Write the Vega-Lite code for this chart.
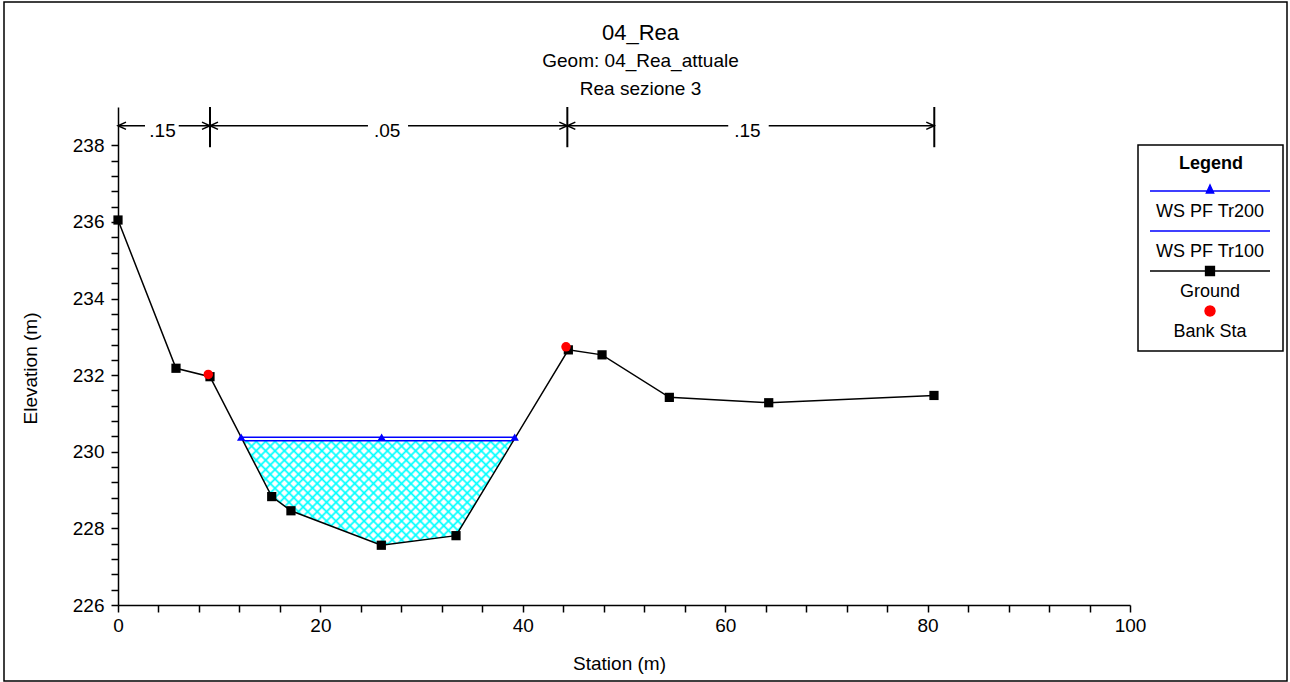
{
  "$schema": "https://vega.github.io/schema/vega-lite/v6.json",
  "width": 1283,
  "height": 679,
  "padding": {"left": 4, "top": 2, "right": 3, "bottom": 1},
  "autosize": {"type": "none"},
  "background": "white",
  "title": {
    "text": "04_Rea",
    "subtitle": ["Geom: 04_Rea_attuale", "Rea sezione 3"],
    "anchor": "middle",
    "offset": -98,
    "dx": -5,
    "font": "Liberation Sans",
    "fontSize": 22,
    "fontWeight": "normal",
    "color": "black",
    "subtitleFont": "Liberation Sans",
    "subtitleFontSize": 19,
    "subtitleColor": "black",
    "subtitleLineHeight": 28,
    "subtitlePadding": 7
  },
  "config": {
    "font": "Liberation Sans",
    "view": {"stroke": "black", "strokeWidth": 1.5},
    "axis": {
      "labelFont": "Liberation Sans",
      "titleFont": "Liberation Sans",
      "labelColor": "black",
      "titleColor": "black",
      "domainColor": "black",
      "tickColor": "black",
      "domainWidth": 1.5,
      "tickWidth": 1.5,
      "grid": false,
      "labelFontSize": 19,
      "titleFontSize": 19,
      "titleFontWeight": "normal",
      "labelOverlap": false,
      "labelFlush": false
    },
    "legend": {"strokeWidth": 1.5}
  },
  "datasets": {
    "ground": [
      {"station": 0, "elev": 236.05},
      {"station": 5.73, "elev": 232.18},
      {"station": 9.09, "elev": 231.96},
      {"station": 15.19, "elev": 228.83},
      {"station": 17.09, "elev": 228.46},
      {"station": 26.02, "elev": 227.56},
      {"station": 33.4, "elev": 227.81},
      {"station": 44.5, "elev": 232.66},
      {"station": 47.83, "elev": 232.53},
      {"station": 54.48, "elev": 231.42},
      {"station": 64.3, "elev": 231.28},
      {"station": 80.63, "elev": 231.47}
    ],
    "bank": [
      {"station": 8.92, "elev": 232.02},
      {"station": 44.27, "elev": 232.74}
    ],
    "tr200": [
      {"station": 12.17, "elev": 230.38},
      {"station": 26.05, "elev": 230.38},
      {"station": 39.2, "elev": 230.38}
    ],
    "tr100": [
      {"station": 12.35, "elev": 230.29},
      {"station": 39.07, "elev": 230.29}
    ],
    "water": [
      {"station": 12.35, "elev": 230.29, "elev2": 230.29},
      {"station": 15.19, "elev": 228.83, "elev2": 230.29},
      {"station": 17.09, "elev": 228.46, "elev2": 230.29},
      {"station": 26.02, "elev": 227.56, "elev2": 230.29},
      {"station": 33.4, "elev": 227.81, "elev2": 230.29},
      {"station": 39.07, "elev": 230.29, "elev2": 230.29}
    ],
    "nbars": [
      {"station": 9.09, "elev": 237.95, "elev2": 239},
      {"station": 44.4, "elev": 237.95, "elev2": 239},
      {"station": 80.66, "elev": 237.95, "elev2": 239}
    ],
    "nlines": [
      {"station": 0, "station2": 2.67, "elev": 238.51},
      {"station": 6.0, "station2": 9.09, "elev": 238.51},
      {"station": 9.09, "station2": 24.7, "elev": 238.51},
      {"station": 28.66, "station2": 44.4, "elev": 238.51},
      {"station": 44.4, "station2": 60.3, "elev": 238.51},
      {"station": 64.3, "station2": 80.66, "elev": 238.51}
    ],
    "nlabels": [
      {"station": 4.4, "elev": 238.22, "n": ".15"},
      {"station": 26.6, "elev": 238.22, "n": ".05"},
      {"station": 62.2, "elev": 238.22, "n": ".15"}
    ],
    "arrowsL": [
      {"station": 0, "elev": 238.51},
      {"station": 9.09, "elev": 238.51},
      {"station": 44.4, "elev": 238.51}
    ],
    "arrowsR": [
      {"station": 9.09, "elev": 238.51},
      {"station": 44.4, "elev": 238.51},
      {"station": 80.66, "elev": 238.51}
    ]
  },
  "encoding": {
    "x": {
      "field": "station",
      "type": "quantitative",
      "scale": {"domain": [0, 100], "range": [114, 1126], "nice": false, "zero": false},
      "axis": {
        "title": "Station (m)",
        "values": [0, 4, 8, 12, 16, 20, 24, 28, 32, 36, 40, 44, 48, 52, 56, 60, 64, 68, 72, 76, 80, 84, 88, 92, 96, 100],
        "labelExpr": "datum.value % 20 === 0 ? format(datum.value, 'd') : ''",
        "offset": -76,
        "tickSize": 7,
        "labelPadding": 4,
        "titleX": 615,
        "titleY": 49
      }
    },
    "y": {
      "field": "elev",
      "type": "quantitative",
      "scale": {"domain": [226, 239], "range": [603, 105], "nice": false, "zero": false},
      "axis": {
        "title": "Elevation (m)",
        "values": [226, 226.4, 226.8, 227.2, 227.6, 228, 228.4, 228.8, 229.2, 229.6, 230, 230.4, 230.8, 231.2, 231.6, 232, 232.4, 232.8, 233.2, 233.6, 234, 234.4, 234.8, 235.2, 235.6, 236, 236.4, 236.8, 237.2, 237.6, 238],
        "labelExpr": "datum.value % 2 === 0 ? format(datum.value, 'd') : ''",
        "offset": -114,
        "tickSize": 7,
        "labelPadding": 7,
        "titleX": -78,
        "titleY": 366
      }
    }
  },
  "layer": [
    {
      "data": {"name": "water"},
      "mark": {
        "type": "area",
        "interpolate": "linear",
        "fill": {
          "gradient": "linear", "x1": 0, "y1": 0, "x2": 1.206, "y2": 0.467,
          "stops": [
            {"offset": 0.006, "color": "rgba(0,255,255,0)"}, {"offset": 0.0125, "color": "#00ffff"}, {"offset": 0.019, "color": "rgba(0,255,255,0)"},
            {"offset": 0.031, "color": "rgba(0,255,255,0)"}, {"offset": 0.0375, "color": "#00ffff"}, {"offset": 0.044, "color": "rgba(0,255,255,0)"},
            {"offset": 0.056, "color": "rgba(0,255,255,0)"}, {"offset": 0.0625, "color": "#00ffff"}, {"offset": 0.069, "color": "rgba(0,255,255,0)"},
            {"offset": 0.081, "color": "rgba(0,255,255,0)"}, {"offset": 0.0875, "color": "#00ffff"}, {"offset": 0.094, "color": "rgba(0,255,255,0)"},
            {"offset": 0.106, "color": "rgba(0,255,255,0)"}, {"offset": 0.1125, "color": "#00ffff"}, {"offset": 0.119, "color": "rgba(0,255,255,0)"},
            {"offset": 0.131, "color": "rgba(0,255,255,0)"}, {"offset": 0.1375, "color": "#00ffff"}, {"offset": 0.144, "color": "rgba(0,255,255,0)"},
            {"offset": 0.156, "color": "rgba(0,255,255,0)"}, {"offset": 0.1625, "color": "#00ffff"}, {"offset": 0.169, "color": "rgba(0,255,255,0)"},
            {"offset": 0.181, "color": "rgba(0,255,255,0)"}, {"offset": 0.1875, "color": "#00ffff"}, {"offset": 0.194, "color": "rgba(0,255,255,0)"},
            {"offset": 0.206, "color": "rgba(0,255,255,0)"}, {"offset": 0.2125, "color": "#00ffff"}, {"offset": 0.219, "color": "rgba(0,255,255,0)"},
            {"offset": 0.231, "color": "rgba(0,255,255,0)"}, {"offset": 0.2375, "color": "#00ffff"}, {"offset": 0.244, "color": "rgba(0,255,255,0)"},
            {"offset": 0.256, "color": "rgba(0,255,255,0)"}, {"offset": 0.2625, "color": "#00ffff"}, {"offset": 0.269, "color": "rgba(0,255,255,0)"},
            {"offset": 0.281, "color": "rgba(0,255,255,0)"}, {"offset": 0.2875, "color": "#00ffff"}, {"offset": 0.294, "color": "rgba(0,255,255,0)"},
            {"offset": 0.306, "color": "rgba(0,255,255,0)"}, {"offset": 0.3125, "color": "#00ffff"}, {"offset": 0.319, "color": "rgba(0,255,255,0)"},
            {"offset": 0.331, "color": "rgba(0,255,255,0)"}, {"offset": 0.3375, "color": "#00ffff"}, {"offset": 0.344, "color": "rgba(0,255,255,0)"},
            {"offset": 0.356, "color": "rgba(0,255,255,0)"}, {"offset": 0.3625, "color": "#00ffff"}, {"offset": 0.369, "color": "rgba(0,255,255,0)"},
            {"offset": 0.381, "color": "rgba(0,255,255,0)"}, {"offset": 0.3875, "color": "#00ffff"}, {"offset": 0.394, "color": "rgba(0,255,255,0)"},
            {"offset": 0.406, "color": "rgba(0,255,255,0)"}, {"offset": 0.4125, "color": "#00ffff"}, {"offset": 0.419, "color": "rgba(0,255,255,0)"},
            {"offset": 0.431, "color": "rgba(0,255,255,0)"}, {"offset": 0.4375, "color": "#00ffff"}, {"offset": 0.444, "color": "rgba(0,255,255,0)"},
            {"offset": 0.456, "color": "rgba(0,255,255,0)"}, {"offset": 0.4625, "color": "#00ffff"}, {"offset": 0.469, "color": "rgba(0,255,255,0)"},
            {"offset": 0.481, "color": "rgba(0,255,255,0)"}, {"offset": 0.4875, "color": "#00ffff"}, {"offset": 0.494, "color": "rgba(0,255,255,0)"},
            {"offset": 0.506, "color": "rgba(0,255,255,0)"}, {"offset": 0.5125, "color": "#00ffff"}, {"offset": 0.519, "color": "rgba(0,255,255,0)"},
            {"offset": 0.531, "color": "rgba(0,255,255,0)"}, {"offset": 0.5375, "color": "#00ffff"}, {"offset": 0.544, "color": "rgba(0,255,255,0)"},
            {"offset": 0.556, "color": "rgba(0,255,255,0)"}, {"offset": 0.5625, "color": "#00ffff"}, {"offset": 0.569, "color": "rgba(0,255,255,0)"},
            {"offset": 0.581, "color": "rgba(0,255,255,0)"}, {"offset": 0.5875, "color": "#00ffff"}, {"offset": 0.594, "color": "rgba(0,255,255,0)"},
            {"offset": 0.606, "color": "rgba(0,255,255,0)"}, {"offset": 0.6125, "color": "#00ffff"}, {"offset": 0.619, "color": "rgba(0,255,255,0)"},
            {"offset": 0.631, "color": "rgba(0,255,255,0)"}, {"offset": 0.6375, "color": "#00ffff"}, {"offset": 0.644, "color": "rgba(0,255,255,0)"},
            {"offset": 0.656, "color": "rgba(0,255,255,0)"}, {"offset": 0.6625, "color": "#00ffff"}, {"offset": 0.669, "color": "rgba(0,255,255,0)"},
            {"offset": 0.681, "color": "rgba(0,255,255,0)"}, {"offset": 0.6875, "color": "#00ffff"}, {"offset": 0.694, "color": "rgba(0,255,255,0)"},
            {"offset": 0.706, "color": "rgba(0,255,255,0)"}, {"offset": 0.7125, "color": "#00ffff"}, {"offset": 0.719, "color": "rgba(0,255,255,0)"},
            {"offset": 0.731, "color": "rgba(0,255,255,0)"}, {"offset": 0.7375, "color": "#00ffff"}, {"offset": 0.744, "color": "rgba(0,255,255,0)"},
            {"offset": 0.756, "color": "rgba(0,255,255,0)"}, {"offset": 0.7625, "color": "#00ffff"}, {"offset": 0.769, "color": "rgba(0,255,255,0)"},
            {"offset": 0.781, "color": "rgba(0,255,255,0)"}, {"offset": 0.7875, "color": "#00ffff"}, {"offset": 0.794, "color": "rgba(0,255,255,0)"},
            {"offset": 0.806, "color": "rgba(0,255,255,0)"}, {"offset": 0.8125, "color": "#00ffff"}, {"offset": 0.819, "color": "rgba(0,255,255,0)"},
            {"offset": 0.831, "color": "rgba(0,255,255,0)"}, {"offset": 0.8375, "color": "#00ffff"}, {"offset": 0.844, "color": "rgba(0,255,255,0)"},
            {"offset": 0.856, "color": "rgba(0,255,255,0)"}, {"offset": 0.8625, "color": "#00ffff"}, {"offset": 0.869, "color": "rgba(0,255,255,0)"},
            {"offset": 0.881, "color": "rgba(0,255,255,0)"}, {"offset": 0.8875, "color": "#00ffff"}, {"offset": 0.894, "color": "rgba(0,255,255,0)"},
            {"offset": 0.906, "color": "rgba(0,255,255,0)"}, {"offset": 0.9125, "color": "#00ffff"}, {"offset": 0.919, "color": "rgba(0,255,255,0)"},
            {"offset": 0.931, "color": "rgba(0,255,255,0)"}, {"offset": 0.9375, "color": "#00ffff"}, {"offset": 0.944, "color": "rgba(0,255,255,0)"},
            {"offset": 0.956, "color": "rgba(0,255,255,0)"}, {"offset": 0.9625, "color": "#00ffff"}, {"offset": 0.969, "color": "rgba(0,255,255,0)"},
            {"offset": 0.981, "color": "rgba(0,255,255,0)"}, {"offset": 0.9875, "color": "#00ffff"}, {"offset": 0.994, "color": "rgba(0,255,255,0)"}
          ]
        }
      },
      "encoding": {"y2": {"field": "elev2"}}
    },
    {
      "data": {"name": "water"},
      "mark": {
        "type": "area",
        "interpolate": "linear",
        "fill": {
          "gradient": "linear", "x1": 0, "y1": 1, "x2": 1.206, "y2": 0.533,
          "stops": [
            {"offset": 0.006, "color": "rgba(0,255,255,0)"}, {"offset": 0.0125, "color": "#00ffff"}, {"offset": 0.019, "color": "rgba(0,255,255,0)"},
            {"offset": 0.031, "color": "rgba(0,255,255,0)"}, {"offset": 0.0375, "color": "#00ffff"}, {"offset": 0.044, "color": "rgba(0,255,255,0)"},
            {"offset": 0.056, "color": "rgba(0,255,255,0)"}, {"offset": 0.0625, "color": "#00ffff"}, {"offset": 0.069, "color": "rgba(0,255,255,0)"},
            {"offset": 0.081, "color": "rgba(0,255,255,0)"}, {"offset": 0.0875, "color": "#00ffff"}, {"offset": 0.094, "color": "rgba(0,255,255,0)"},
            {"offset": 0.106, "color": "rgba(0,255,255,0)"}, {"offset": 0.1125, "color": "#00ffff"}, {"offset": 0.119, "color": "rgba(0,255,255,0)"},
            {"offset": 0.131, "color": "rgba(0,255,255,0)"}, {"offset": 0.1375, "color": "#00ffff"}, {"offset": 0.144, "color": "rgba(0,255,255,0)"},
            {"offset": 0.156, "color": "rgba(0,255,255,0)"}, {"offset": 0.1625, "color": "#00ffff"}, {"offset": 0.169, "color": "rgba(0,255,255,0)"},
            {"offset": 0.181, "color": "rgba(0,255,255,0)"}, {"offset": 0.1875, "color": "#00ffff"}, {"offset": 0.194, "color": "rgba(0,255,255,0)"},
            {"offset": 0.206, "color": "rgba(0,255,255,0)"}, {"offset": 0.2125, "color": "#00ffff"}, {"offset": 0.219, "color": "rgba(0,255,255,0)"},
            {"offset": 0.231, "color": "rgba(0,255,255,0)"}, {"offset": 0.2375, "color": "#00ffff"}, {"offset": 0.244, "color": "rgba(0,255,255,0)"},
            {"offset": 0.256, "color": "rgba(0,255,255,0)"}, {"offset": 0.2625, "color": "#00ffff"}, {"offset": 0.269, "color": "rgba(0,255,255,0)"},
            {"offset": 0.281, "color": "rgba(0,255,255,0)"}, {"offset": 0.2875, "color": "#00ffff"}, {"offset": 0.294, "color": "rgba(0,255,255,0)"},
            {"offset": 0.306, "color": "rgba(0,255,255,0)"}, {"offset": 0.3125, "color": "#00ffff"}, {"offset": 0.319, "color": "rgba(0,255,255,0)"},
            {"offset": 0.331, "color": "rgba(0,255,255,0)"}, {"offset": 0.3375, "color": "#00ffff"}, {"offset": 0.344, "color": "rgba(0,255,255,0)"},
            {"offset": 0.356, "color": "rgba(0,255,255,0)"}, {"offset": 0.3625, "color": "#00ffff"}, {"offset": 0.369, "color": "rgba(0,255,255,0)"},
            {"offset": 0.381, "color": "rgba(0,255,255,0)"}, {"offset": 0.3875, "color": "#00ffff"}, {"offset": 0.394, "color": "rgba(0,255,255,0)"},
            {"offset": 0.406, "color": "rgba(0,255,255,0)"}, {"offset": 0.4125, "color": "#00ffff"}, {"offset": 0.419, "color": "rgba(0,255,255,0)"},
            {"offset": 0.431, "color": "rgba(0,255,255,0)"}, {"offset": 0.4375, "color": "#00ffff"}, {"offset": 0.444, "color": "rgba(0,255,255,0)"},
            {"offset": 0.456, "color": "rgba(0,255,255,0)"}, {"offset": 0.4625, "color": "#00ffff"}, {"offset": 0.469, "color": "rgba(0,255,255,0)"},
            {"offset": 0.481, "color": "rgba(0,255,255,0)"}, {"offset": 0.4875, "color": "#00ffff"}, {"offset": 0.494, "color": "rgba(0,255,255,0)"},
            {"offset": 0.506, "color": "rgba(0,255,255,0)"}, {"offset": 0.5125, "color": "#00ffff"}, {"offset": 0.519, "color": "rgba(0,255,255,0)"},
            {"offset": 0.531, "color": "rgba(0,255,255,0)"}, {"offset": 0.5375, "color": "#00ffff"}, {"offset": 0.544, "color": "rgba(0,255,255,0)"},
            {"offset": 0.556, "color": "rgba(0,255,255,0)"}, {"offset": 0.5625, "color": "#00ffff"}, {"offset": 0.569, "color": "rgba(0,255,255,0)"},
            {"offset": 0.581, "color": "rgba(0,255,255,0)"}, {"offset": 0.5875, "color": "#00ffff"}, {"offset": 0.594, "color": "rgba(0,255,255,0)"},
            {"offset": 0.606, "color": "rgba(0,255,255,0)"}, {"offset": 0.6125, "color": "#00ffff"}, {"offset": 0.619, "color": "rgba(0,255,255,0)"},
            {"offset": 0.631, "color": "rgba(0,255,255,0)"}, {"offset": 0.6375, "color": "#00ffff"}, {"offset": 0.644, "color": "rgba(0,255,255,0)"},
            {"offset": 0.656, "color": "rgba(0,255,255,0)"}, {"offset": 0.6625, "color": "#00ffff"}, {"offset": 0.669, "color": "rgba(0,255,255,0)"},
            {"offset": 0.681, "color": "rgba(0,255,255,0)"}, {"offset": 0.6875, "color": "#00ffff"}, {"offset": 0.694, "color": "rgba(0,255,255,0)"},
            {"offset": 0.706, "color": "rgba(0,255,255,0)"}, {"offset": 0.7125, "color": "#00ffff"}, {"offset": 0.719, "color": "rgba(0,255,255,0)"},
            {"offset": 0.731, "color": "rgba(0,255,255,0)"}, {"offset": 0.7375, "color": "#00ffff"}, {"offset": 0.744, "color": "rgba(0,255,255,0)"},
            {"offset": 0.756, "color": "rgba(0,255,255,0)"}, {"offset": 0.7625, "color": "#00ffff"}, {"offset": 0.769, "color": "rgba(0,255,255,0)"},
            {"offset": 0.781, "color": "rgba(0,255,255,0)"}, {"offset": 0.7875, "color": "#00ffff"}, {"offset": 0.794, "color": "rgba(0,255,255,0)"},
            {"offset": 0.806, "color": "rgba(0,255,255,0)"}, {"offset": 0.8125, "color": "#00ffff"}, {"offset": 0.819, "color": "rgba(0,255,255,0)"},
            {"offset": 0.831, "color": "rgba(0,255,255,0)"}, {"offset": 0.8375, "color": "#00ffff"}, {"offset": 0.844, "color": "rgba(0,255,255,0)"},
            {"offset": 0.856, "color": "rgba(0,255,255,0)"}, {"offset": 0.8625, "color": "#00ffff"}, {"offset": 0.869, "color": "rgba(0,255,255,0)"},
            {"offset": 0.881, "color": "rgba(0,255,255,0)"}, {"offset": 0.8875, "color": "#00ffff"}, {"offset": 0.894, "color": "rgba(0,255,255,0)"},
            {"offset": 0.906, "color": "rgba(0,255,255,0)"}, {"offset": 0.9125, "color": "#00ffff"}, {"offset": 0.919, "color": "rgba(0,255,255,0)"},
            {"offset": 0.931, "color": "rgba(0,255,255,0)"}, {"offset": 0.9375, "color": "#00ffff"}, {"offset": 0.944, "color": "rgba(0,255,255,0)"},
            {"offset": 0.956, "color": "rgba(0,255,255,0)"}, {"offset": 0.9625, "color": "#00ffff"}, {"offset": 0.969, "color": "rgba(0,255,255,0)"},
            {"offset": 0.981, "color": "rgba(0,255,255,0)"}, {"offset": 0.9875, "color": "#00ffff"}, {"offset": 0.994, "color": "rgba(0,255,255,0)"}
          ]
        }
      },
      "encoding": {"y2": {"field": "elev2"}}
    },
    {
      "data": {"name": "tr100"},
      "mark": {"type": "line", "strokeWidth": 1.5},
      "encoding": {"color": {"datum": "WS PF Tr100", "type": "nominal"}}
    },
    {
      "data": {"name": "tr200"},
      "mark": {"type": "line", "strokeWidth": 1.5},
      "encoding": {"color": {"datum": "WS PF Tr200", "type": "nominal"}}
    },
    {
      "data": {"name": "ground"},
      "mark": {"type": "line", "strokeWidth": 1.5},
      "encoding": {
        "color": {
          "datum": "Ground",
          "type": "nominal",
          "scale": {
            "domain": ["WS PF Tr200", "WS PF Tr100", "Ground", "Bank Sta"],
            "range": ["#0000ff", "#0000ff", "#000000", "#ff0000"]
          },
          "legend": {
            "title": "Legend",
            "orient": "none",
            "legendX": 1134,
            "legendY": 143,
            "padding": 10,
            "strokeColor": "black",
            "titleFont": "Liberation Sans",
            "titleFontSize": 18,
            "titleFontWeight": "bold",
            "titleColor": "black",
            "titleAnchor": "middle",
            "titlePadding": 9,
            "labelFont": "Liberation Sans",
            "labelFontSize": 18,
            "labelColor": "black",
            "labelAlign": "center",
            "labelOffset": 0,
            "labelLimit": 200,
            "symbolSize": 64,
            "symbolOffset": 0,
            "rowPadding": 1,
            "encode": {
              "symbols": {
                "update": {
                  "x": {"value": 62},
                  "shape": {"signal": "datum.value === 'WS PF Tr200' ? 'M-15,0L15,0M-0.9,0.5L0,-1.5L0.9,0.5Z' : datum.value === 'WS PF Tr100' ? 'M-15,0L15,0' : datum.value === 'Ground' ? 'M-15,0L15,0M-1.1,-1.1L1.1,-1.1L1.1,1.1L-1.1,1.1Z' : 'M1.25,0L1.08,0.63L0.63,1.08L0,1.25L-0.63,1.08L-1.08,0.63L-1.25,0L-1.08,-0.63L-0.63,-1.08L0,-1.25L0.63,-1.08L1.08,-0.63Z'"},
                  "fill": {"signal": "datum.value === 'Ground' ? '#000000' : datum.value === 'Bank Sta' ? '#ff0000' : '#0000ff'"},
                  "stroke": {"signal": "datum.value === 'Ground' ? '#000000' : datum.value === 'Bank Sta' ? '#ff0000' : '#0000ff'"},
                  "strokeWidth": {"value": 1.5},
                  "size": {"value": 64},
                  "opacity": {"value": 1}
                }
              },
              "labels": {
                "update": {
                  "x": {"value": 62},
                  "align": {"value": "center"},
                  "dy": {"value": 21}
                }
              }
            }
          }
        }
      }
    },
    {
      "data": {"name": "ground"},
      "mark": {"type": "point", "shape": "square", "filled": true, "size": 85, "opacity": 1},
      "encoding": {"color": {"datum": "Ground", "type": "nominal"}}
    },
    {
      "data": {"name": "tr200"},
      "mark": {"type": "point", "shape": "triangle-up", "filled": true, "size": 70, "opacity": 1},
      "encoding": {"color": {"datum": "WS PF Tr200", "type": "nominal"}}
    },
    {
      "data": {"name": "bank"},
      "mark": {"type": "point", "shape": "circle", "filled": true, "size": 90, "opacity": 1},
      "encoding": {"color": {"datum": "Bank Sta", "type": "nominal"}}
    },
    {
      "data": {"name": "nbars"},
      "mark": {"type": "rule", "color": "black", "strokeWidth": 2},
      "encoding": {"y2": {"field": "elev2"}}
    },
    {
      "data": {"name": "nlines"},
      "mark": {"type": "rule", "color": "black", "strokeWidth": 1.5},
      "encoding": {"x2": {"field": "station2"}}
    },
    {
      "data": {"name": "arrowsL"},
      "mark": {"type": "point", "shape": "M2,-0.9L0,0L2,0.9", "size": 64, "filled": false, "color": "black", "strokeWidth": 1.5, "opacity": 1}
    },
    {
      "data": {"name": "arrowsR"},
      "mark": {"type": "point", "shape": "M-2,-0.9L0,0L-2,0.9", "size": 64, "filled": false, "color": "black", "strokeWidth": 1.5, "opacity": 1}
    },
    {
      "data": {"name": "nlabels"},
      "mark": {"type": "text", "font": "Liberation Sans", "fontSize": 19, "baseline": "alphabetic", "align": "center", "color": "black"},
      "encoding": {"text": {"field": "n"}}
    }
  ]
}
